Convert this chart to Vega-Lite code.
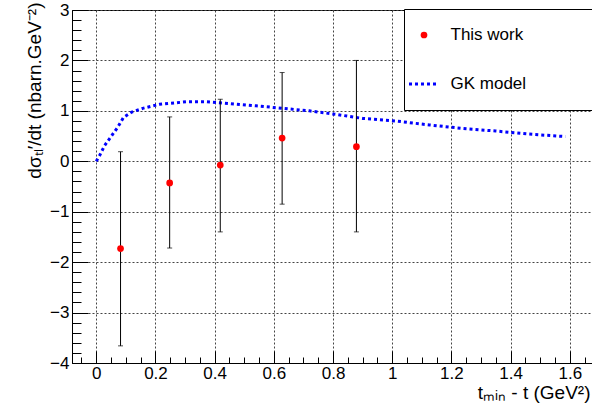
{
  "$schema": "https://vega.github.io/schema/vega-lite/v6.json",
  "width": 520,
  "height": 353,
  "autosize": {"type": "none"},
  "padding": {"left": 72, "top": 10, "right": 0, "bottom": 43},
  "background": "white",
  "config": {
    "font": "Liberation Sans",
    "view": {"stroke": "black", "strokeWidth": 1},
    "axis": {
      "domainColor": "black",
      "tickColor": "black",
      "labelColor": "black",
      "titleColor": "black",
      "labelFont": "Liberation Sans",
      "titleFont": "Liberation Sans",
      "labelFontSize": 17,
      "titleFontSize": 19,
      "titleFontWeight": "normal",
      "gridColor": "#444444",
      "gridDash": [2, 2],
      "gridWidth": 1,
      "labelOverlap": false,
      "labelFlush": false
    }
  },
  "datasets": {
    "obs": [
      {"x": 0.082, "y": -1.73, "lo": -3.66, "hi": 0.19, "series": "This work"},
      {"x": 0.248, "y": -0.43, "lo": -1.72, "hi": 0.88, "series": "This work"},
      {"x": 0.419, "y": -0.075, "lo": -1.40, "hi": 1.23, "series": "This work"},
      {"x": 0.628, "y": 0.46, "lo": -0.85, "hi": 1.76, "series": "This work"},
      {"x": 0.879, "y": 0.29, "lo": -1.40, "hi": 2.00, "series": "This work"}
    ],
    "gk": [
      {"x": 0.0, "y": 0.0, "series": "GK model"},
      {"x": 0.011, "y": 0.11, "series": "GK model"},
      {"x": 0.028, "y": 0.31, "series": "GK model"},
      {"x": 0.05, "y": 0.49, "series": "GK model"},
      {"x": 0.073, "y": 0.68, "series": "GK model"},
      {"x": 0.092, "y": 0.87, "series": "GK model"},
      {"x": 0.118, "y": 0.97, "series": "GK model"},
      {"x": 0.157, "y": 1.05, "series": "GK model"},
      {"x": 0.214, "y": 1.13, "series": "GK model"},
      {"x": 0.304, "y": 1.18, "series": "GK model"},
      {"x": 0.372, "y": 1.18, "series": "GK model"},
      {"x": 0.45, "y": 1.145, "series": "GK model"},
      {"x": 0.54, "y": 1.10, "series": "GK model"},
      {"x": 0.63, "y": 1.05, "series": "GK model"},
      {"x": 0.72, "y": 1.00, "series": "GK model"},
      {"x": 0.81, "y": 0.93, "series": "GK model"},
      {"x": 0.90, "y": 0.85, "series": "GK model"},
      {"x": 1.01, "y": 0.80, "series": "GK model"},
      {"x": 1.126, "y": 0.72, "series": "GK model"},
      {"x": 1.24, "y": 0.65, "series": "GK model"},
      {"x": 1.35, "y": 0.60, "series": "GK model"},
      {"x": 1.46, "y": 0.54, "series": "GK model"},
      {"x": 1.585, "y": 0.49, "series": "GK model"}
    ]
  },
  "layer": [
    {
      "data": {"name": "gk"},
      "mark": {"type": "line", "strokeWidth": 3, "strokeDash": [3, 3], "interpolate": "linear"},
      "encoding": {
        "x": {
          "field": "x", "type": "quantitative",
          "scale": {"domain": [-0.082, 1.675], "nice": false, "zero": false},
          "axis": {
            "orient": "bottom",
            "values": [0, 0.2, 0.4, 0.6, 0.8, 1, 1.2, 1.4, 1.6],
            "format": "~g",
            "tickSize": -12,
            "labelPadding": 14,
            "grid": true,
            "title": "tₘᵢₙ - t (GeV²)",
            "titleAnchor": "end",
            "titleAlign": "right",
            "titleX": 518,
            "titleY": 35,
            "titleBaseline": "alphabetic"
          }
        },
        "y": {
          "field": "y", "type": "quantitative",
          "scale": {"domain": [-4, 3], "nice": false, "zero": false},
          "axis": {
            "orient": "left",
            "values": [-4, -3, -2, -1, 0, 1, 2, 3],
            "format": "~g",
            "tickSize": -16,
            "labelPadding": 19,
            "grid": true,
            "title": "dσₜₗ′/dt (nbarn.GeV⁻²)",
            "titleAnchor": "end",
            "titleAngle": -90,
            "titleAlign": "right",
            "titleBaseline": "bottom",
            "titleX": -28,
            "titleY": -8
          }
        },
        "color": {
          "field": "series", "type": "nominal",
          "scale": {"domain": ["This work", "GK model"], "range": ["#ff0000", "#0000ff"]},
          "legend": {
            "orient": "none",
            "legendX": 332,
            "legendY": -1,
            "title": ".",
            "titleOrient": "right",
            "titleOpacity": 0,
            "titleFontSize": 10,
            "titlePadding": 61,
            "columns": 1,
            "padding": 5,
            "rowPadding": 7,
            "clipHeight": 42,
            "symbolOffset": 6.5,
            "symbolType": "circle",
            "labelFont": "Liberation Sans",
            "labelFontSize": 17,
            "labelColor": "black",
            "labelOffset": 18,
            "labelLimit": 400,
            "strokeColor": "black",
            "fillColor": "white",
            "encode": {
              "symbols": {
                "update": {
                  "shape": {"signal": "datum.value === 'GK model' ? 'stroke' : 'circle'"},
                  "size": {"signal": "datum.value === 'GK model' ? 900 : 45"},
                  "strokeDash": {"signal": "datum.value === 'GK model' ? [3, 3] : [1, 0]"},
                  "strokeWidth": {"signal": "datum.value === 'GK model' ? 3 : 0"},
                  "fill": {"signal": "datum.value === 'GK model' ? 'transparent' : '#ff0000'"},
                  "stroke": {"signal": "datum.value === 'GK model' ? '#0000ff' : '#ff0000'"},
                  "opacity": {"value": 1}
                }
              }
            }
          }
        }
      }
    },
    {
      "data": {"name": "obs"},
      "mark": {"type": "rule", "color": "black", "strokeWidth": 1},
      "encoding": {
        "x": {
          "field": "x", "type": "quantitative",
          "scale": {"domain": [-0.082, 1.675], "nice": false, "zero": false},
          "axis": {
            "orient": "bottom",
            "values": [-0.05, 0.05, 0.1, 0.15, 0.25, 0.3, 0.35, 0.45, 0.5, 0.55, 0.65, 0.7, 0.75, 0.85, 0.9, 0.95, 1.05, 1.1, 1.15, 1.25, 1.3, 1.35, 1.45, 1.5, 1.55, 1.65],
            "tickSize": -6,
            "labels": false,
            "domain": false,
            "grid": false,
            "title": null
          }
        },
        "y": {
          "field": "lo", "type": "quantitative",
          "scale": {"domain": [-4, 3], "nice": false, "zero": false},
          "axis": {
            "orient": "left",
            "values": [-3.8, -3.6, -3.4, -3.2, -2.8, -2.6, -2.4, -2.2, -1.8, -1.6, -1.4, -1.2, -0.8, -0.6, -0.4, -0.2, 0.2, 0.4, 0.6, 0.8, 1.2, 1.4, 1.6, 1.8, 2.2, 2.4, 2.6, 2.8],
            "tickSize": -9,
            "labels": false,
            "domain": false,
            "grid": false,
            "title": null
          }
        },
        "y2": {"field": "hi"}
      }
    },
    {
      "data": {"name": "obs"},
      "mark": {"type": "tick", "orient": "horizontal", "color": "black", "size": 5, "thickness": 1},
      "encoding": {
        "x": {"field": "x", "type": "quantitative", "scale": {"domain": [-0.082, 1.675], "nice": false, "zero": false}, "axis": null},
        "y": {"field": "lo", "type": "quantitative", "scale": {"domain": [-4, 3], "nice": false, "zero": false}, "axis": null}
      }
    },
    {
      "data": {"name": "obs"},
      "mark": {"type": "tick", "orient": "horizontal", "color": "black", "size": 5, "thickness": 1},
      "encoding": {
        "x": {"field": "x", "type": "quantitative", "scale": {"domain": [-0.082, 1.675], "nice": false, "zero": false}, "axis": null},
        "y": {"field": "hi", "type": "quantitative", "scale": {"domain": [-4, 3], "nice": false, "zero": false}, "axis": null}
      }
    },
    {
      "data": {"name": "obs"},
      "mark": {"type": "point", "filled": true, "size": 45, "opacity": 1, "shape": "circle"},
      "encoding": {
        "x": {"field": "x", "type": "quantitative", "scale": {"domain": [-0.082, 1.675], "nice": false, "zero": false}, "axis": null},
        "y": {"field": "y", "type": "quantitative", "scale": {"domain": [-4, 3], "nice": false, "zero": false}, "axis": null},
        "color": {"field": "series", "type": "nominal", "scale": {"domain": ["This work", "GK model"], "range": ["#ff0000", "#0000ff"]}}
      }
    }
  ],
  "resolve": {"axis": {"x": "independent", "y": "independent"}}
}
